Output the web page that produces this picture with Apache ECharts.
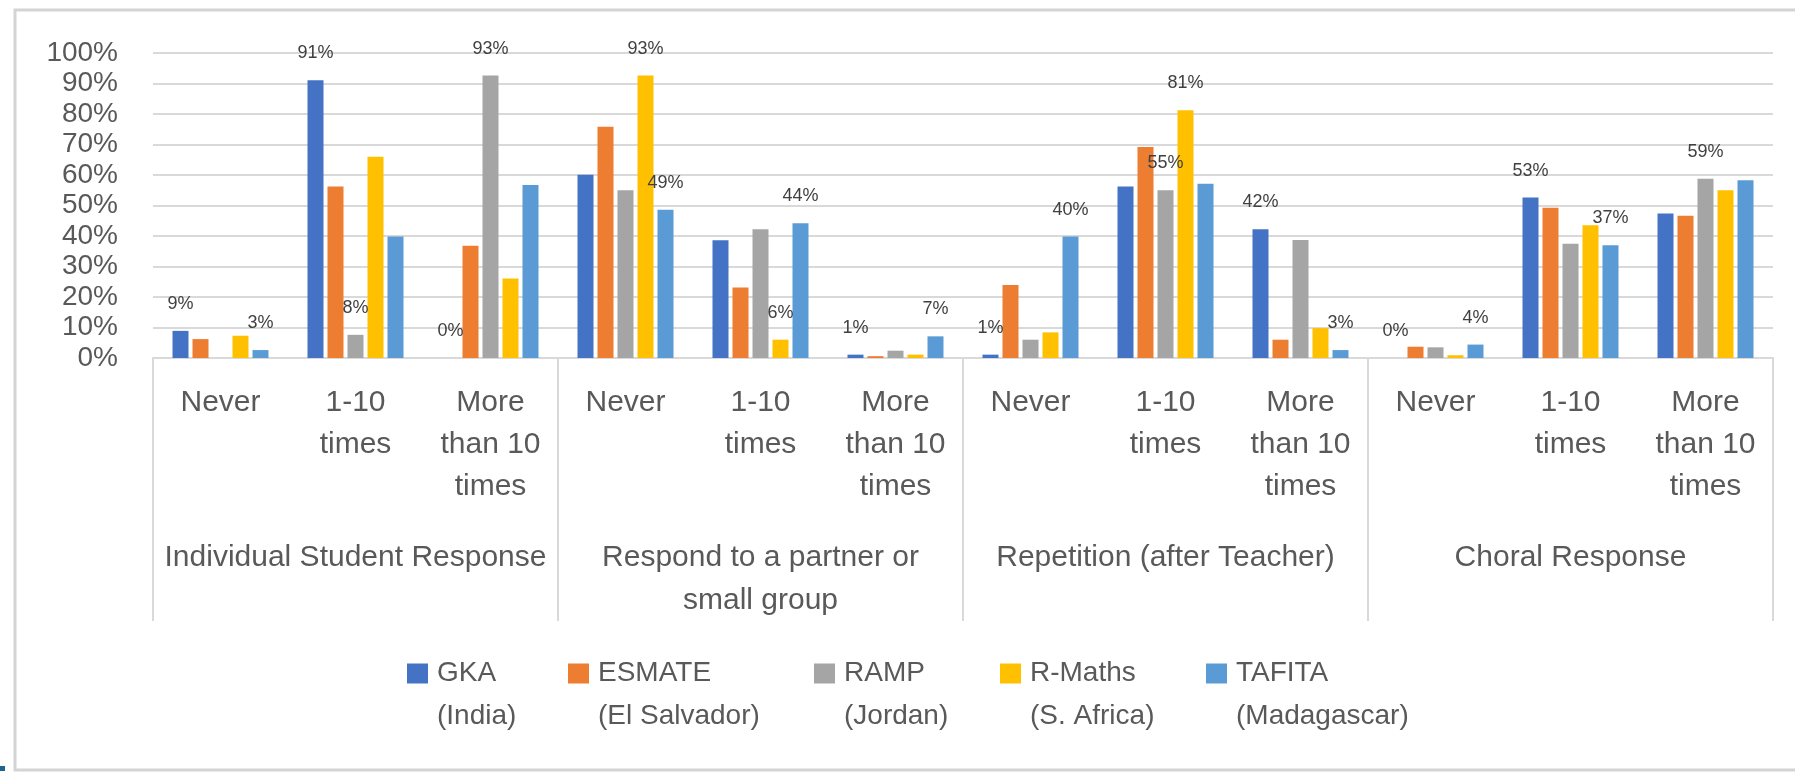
<!DOCTYPE html>
<html>
<head>
<meta charset="utf-8">
<title>Student response frequency by programme</title>
<script src="https://cdn.jsdelivr.net/npm/echarts@6.0.0/dist/echarts.min.js"></script>
<style>
    body, html { margin: 0; padding: 0; width: 100%; height: 100%; overflow: hidden; background: #fff; }
    #main { width: 1795px; height: 772px; }
</style>
</head>
<body>
<div id="main"></div>
<script>
// frequency buckets, repeated under each response type
var buckets = ['Never', '1-10\ntimes', 'More\nthan 10\ntimes'];
var groups = ['Individual Student Response', 'Respond to a partner or\nsmall group',
              'Repetition (after Teacher)', 'Choral Response'];
var programmes = ['GKA\n(India)', 'ESMATE\n(El Salvador)', 'RAMP\n(Jordan)', 'R-Maths\n(S. Africa)', 'TAFITA\n(Madagascar)'];
var colors = ['#4472C4', '#ED7D31', '#A5A5A5', '#FFC000', '#5B9BD5'];

// % of lessons (12 = 4 groups x 3 buckets)
var gka    = [8.9, 91.1, 0,    60.1, 38.6, 1.1, 1.1,  56.2, 42.2, 0,   52.6, 47.4];
var esmate = [6.2, 56.2, 36.8, 75.8, 23.1, 0.6, 23.9, 69.2, 6.0,  3.7, 49.3, 46.6];
var ramp   = [0,   7.6,  92.6, 55.0, 42.2, 2.4, 6.0,  55.0, 38.7, 3.5, 37.5, 58.8];
var rmaths = [7.3, 66.0, 26.1, 92.6, 6.0,  1.1, 8.4,  81.2, 9.8,  0.9, 43.5, 55.0];
var tafita = [2.6, 39.8, 56.7, 48.6, 44.2, 7.1, 39.8, 57.1, 2.6,  4.4, 37.0, 58.3];

// which points carry a data label in the original
var labelledGka    = [0, 1, 2, 5, 6, 8, 9, 10];
var labelledEsmate = [];
var labelledRamp   = [1, 2, 7, 11];
var labelledRmaths = [3, 4, 7];
var labelledTafita = [0, 3, 4, 5, 6, 8, 9, 10];

var yTicks = [0, 10, 20, 30, 40, 50, 60, 70, 80, 90, 100];

var categories = [];
groups.forEach(function () { buckets.forEach(function (b) { categories.push(b); }); });

var values = [gka, esmate, ramp, rmaths, tafita];
var labelled = [labelledGka, labelledEsmate, labelledRamp, labelledRmaths, labelledTafita];
var legendLeft = [407, 568, 814, 1000, 1206];

var FONT = 'Liberation Sans, Arial, sans-serif';
var TXT = '#595959';
var GRID = '#d9d9d9';

var chart = echarts.init(document.getElementById('main'));

var series = programmes.map(function (name, i) {
    return {
        name: name,
        type: 'bar',
        barWidth: 16,
        barGap: '25%',
        itemStyle: { color: colors[i] },
        label: {
            show: false,
            position: 'top',
            distance: 18,
            fontFamily: FONT,
            fontSize: 18,
            color: '#404040',
            formatter: function (p) { return Math.round(p.value) + '%'; }
        },
        data: values[i].map(function (v, k) {
            return labelled[i].indexOf(k) >= 0 ? { value: v, label: { show: true } } : v;
        })
    };
});

// a blank first line keeps the square level with the programme name
var legends = programmes.map(function (name, i) {
    return {
        data: [name],
        left: legendLeft[i],
        top: 609,
        padding: 0,
        itemWidth: 21,
        itemHeight: 20,
        selectedMode: false,
        icon: 'rect',
        formatter: function (n) { return ' \n' + n; },
        textStyle: {
            fontFamily: FONT, fontSize: 28, color: TXT, lineHeight: 43,
            padding: [0, 0, 0, 4]
        }
    };
});

chart.setOption({
    animation: false,
    backgroundColor: '#fff',
    color: colors,
    legend: legends,
    grid: { left: 153, right: 22, top: 53, bottom: 414, containLabel: false, outerBoundsMode: 'none' },
    xAxis: [{
        type: 'category',
        data: categories,
        axisLine: { lineStyle: { color: GRID, width: 2 } },
        axisTick: { show: false },
        axisLabel: { interval: 0, margin: 24, fontFamily: FONT, fontSize: 30, lineHeight: 42, color: TXT, align: 'center' }
    }, {
        type: 'category',
        data: groups,
        position: 'bottom',
        axisLine: { show: false },
        axisTick: { show: true, length: 263, lineStyle: { color: GRID, width: 2 } },
        axisLabel: { interval: 0, margin: 178, fontFamily: FONT, fontSize: 30, lineHeight: 43, color: TXT }
    }],
    yAxis: {
        type: 'value',
        min: yTicks[0],
        max: yTicks[yTicks.length - 1],
        interval: yTicks[1] - yTicks[0],
        axisLine: { show: false },
        axisTick: { show: false },
        splitLine: { lineStyle: { color: GRID, width: 2 } },
        axisLabel: { formatter: '{value}%', margin: 35, fontFamily: FONT, fontSize: 28, color: TXT }
    },
    series: series,
    graphic: [
        { type: 'rect', shape: { x: 15, y: 10, width: 1800, height: 760 }, style: { fill: null, stroke: '#d4d4d4', lineWidth: 3 }, silent: true },
        { type: 'rect', shape: { x: 0, y: 766, width: 5, height: 5 }, style: { fill: '#1f6391' }, silent: true }
    ]
});
</script>
</body>
</html>
